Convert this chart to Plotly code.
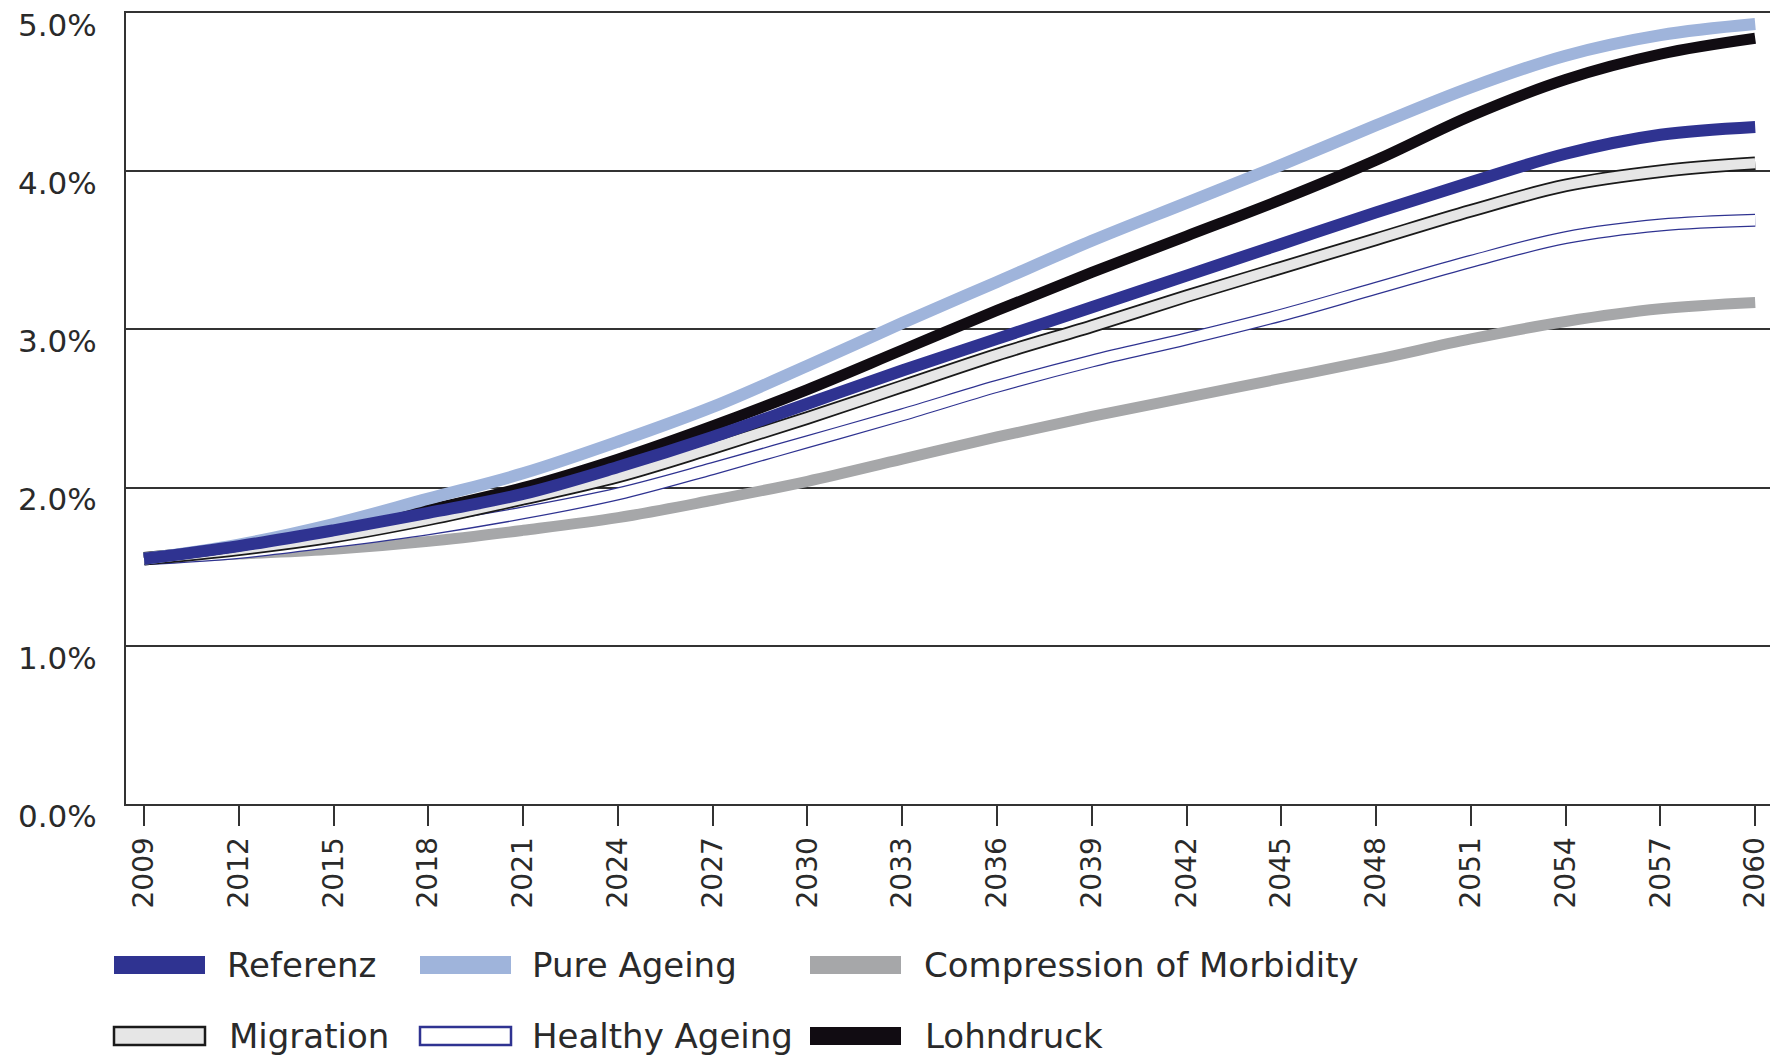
"""Health expenditure share scenarios 2009-2060, six projection paths."""

import plotly.graph_objects as go

years = [2009, 2012, 2015, 2018, 2021, 2024, 2027, 2030, 2033, 2036,
         2039, 2042, 2045, 2048, 2051, 2054, 2057, 2060]

referenz = [1.55, 1.63, 1.73, 1.84, 1.96, 2.13, 2.32, 2.53, 2.74, 2.94,
            3.14, 3.34, 3.54, 3.74, 3.93, 4.11, 4.23, 4.28]
pure_ageing = [1.55, 1.64, 1.77, 1.93, 2.09, 2.29, 2.51, 2.77, 3.04, 3.30,
               3.56, 3.80, 4.04, 4.29, 4.53, 4.73, 4.86, 4.93]
compression = [1.55, 1.58, 1.61, 1.66, 1.73, 1.81, 1.92, 2.04, 2.18, 2.32,
               2.45, 2.57, 2.69, 2.81, 2.94, 3.05, 3.13, 3.17]
migration = [1.55, 1.61, 1.69, 1.80, 1.93, 2.07, 2.25, 2.44, 2.64, 2.84,
             3.02, 3.21, 3.39, 3.57, 3.75, 3.91, 4.00, 4.05]
healthy_ageing = [1.55, 1.59, 1.66, 1.74, 1.84, 1.96, 2.12, 2.29, 2.46, 2.64,
                  2.80, 2.94, 3.09, 3.26, 3.43, 3.58, 3.66, 3.69]
lohndruck = [1.55, 1.63, 1.74, 1.86, 2.00, 2.18, 2.39, 2.62, 2.87, 3.12,
             3.36, 3.59, 3.82, 4.07, 4.35, 4.58, 4.74, 4.84]

y_ticks = [0, 1, 2, 3, 4, 5]
y_tick_labels = ["0.0%", "1.0%", "2.0%", "3.0%", "4.0%", "5.0%"]

NAVY = "#2f3391"
LIGHT = "#9fb4db"
GREY = "#a6a7a9"
BLACK = "#110c12"
FONT = "DejaVu Sans"
INK = "#2a2a2a"

# the page body adds an 8px margin, so positions are shifted by -8
W, H = 1770, 1049
PLOT_L, PLOT_R, PLOT_T, PLOT_B = 118, 1763, 5, 796


def px(x):
    return (x - PLOT_L) / (PLOT_R - PLOT_L)


def py(y):
    return (PLOT_B - y) / (PLOT_B - PLOT_T)


def line(y, color, width):
    return go.Scatter(
        x=years, y=y, mode="lines", hoverinfo="skip", showlegend=False,
        line=dict(color=color, width=width, shape="spline", smoothing=1),
    )


fig = go.Figure()
fig.add_trace(line(compression, GREY, 11))
fig.add_trace(line(healthy_ageing, NAVY, 13))
fig.add_trace(line(healthy_ageing, "#ffffff", 10.5))
fig.add_trace(line(migration, "#1a1a1a", 13.5))
fig.add_trace(line(migration, "#e6e6e6", 10))
fig.add_trace(line(lohndruck, BLACK, 11))
fig.add_trace(line(pure_ageing, LIGHT, 12))
fig.add_trace(line(referenz, NAVY, 12))

# hand-built legend: wide swatches like the original
legend = [
    ("Referenz", 106, 217, 957, NAVY, None),
    ("Pure Ageing", 412, 522, 957, LIGHT, None),
    ("Compression of Morbidity", 802, 914, 957, GREY, None),
    ("Migration", 106, 219, 1028, "#e6e6e6", "#1a1a1a"),
    ("Healthy Ageing", 412, 522, 1028, "#ffffff", NAVY),
    ("Lohndruck", 802, 915, 1028, BLACK, None),
]
for name, sx, tx, cy, fill, edge in legend:
    fig.add_shape(
        type="rect", xref="paper", yref="paper",
        x0=px(sx), x1=px(sx + 91), y0=py(cy + 9), y1=py(cy - 9),
        fillcolor=fill,
        line=dict(color=edge or fill, width=2.5 if edge else 0),
    )
    fig.add_annotation(
        x=px(tx), y=py(cy), xref="paper", yref="paper", text=name,
        showarrow=False, xanchor="left", yanchor="middle",
        font=dict(family=FONT, size=34, color=INK),
    )

fig.update_layout(
    width=W, height=H,
    margin=dict(l=PLOT_L, r=W - PLOT_R, t=PLOT_T, b=H - PLOT_B),
    paper_bgcolor="white", plot_bgcolor="white",
    showlegend=False,
    font=dict(family=FONT, color=INK),
)
fig.update_xaxes(
    range=[2008.43, 2060.5], tickvals=years, tickangle=-90,
    ticks="outside", ticklen=20, tickwidth=2, tickcolor="#333",
    tickfont=dict(family=FONT, size=28, color=INK),
    showgrid=False, zeroline=False, automargin=False,
    showline=True, linecolor="#333", linewidth=2, mirror=True,
)
fig.update_yaxes(
    range=[0, 5], tickvals=y_ticks, ticktext=y_tick_labels,
    ticks="", ticklabelshift=12, ticklabelstandoff=21,
    ticklabeloverflow="allow", automargin=False,
    tickfont=dict(family=FONT, size=31, color=INK),
    showgrid=True, gridcolor="#333", gridwidth=1.5, zeroline=False,
    showline=True, linecolor="#333", linewidth=2, mirror=True,
)

fig.write_html("out.html")
